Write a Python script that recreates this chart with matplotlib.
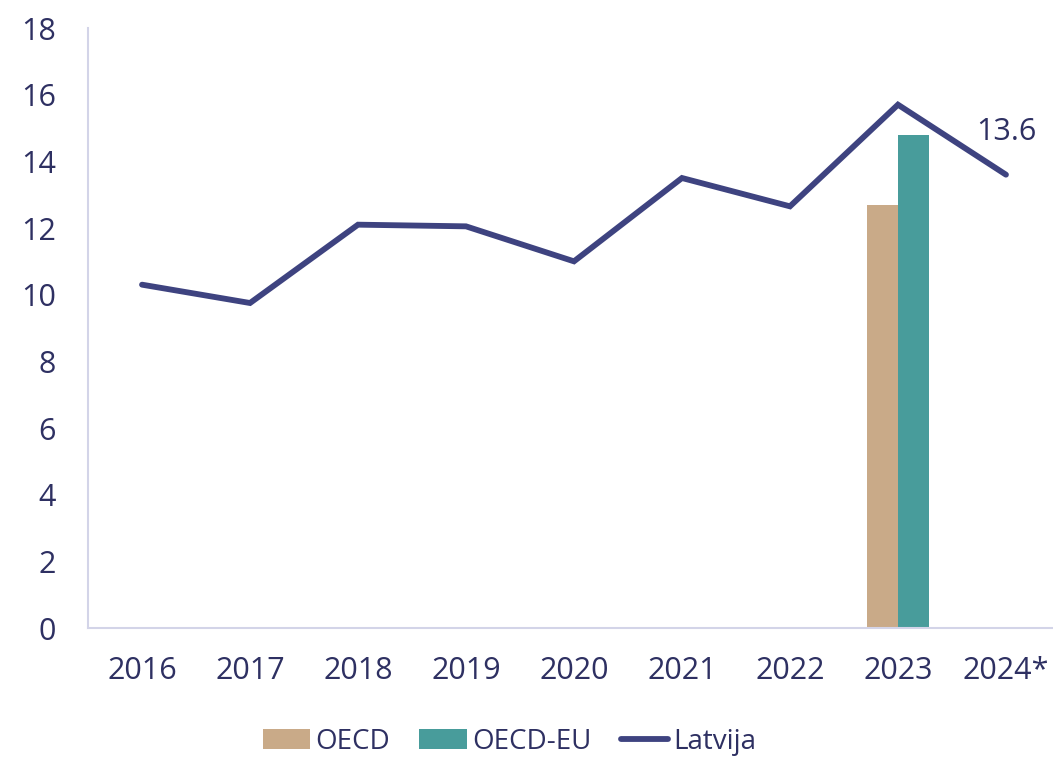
import matplotlib
matplotlib.use("Agg")
import matplotlib.pyplot as plt
import numpy as np

# ── Data ──────────────────────────────────────────────────────────────────────

years   = ["2016", "2017", "2018", "2019", "2020", "2021", "2022", "2023", "2024*"]
latvija = [10.3, 9.75, 12.1, 12.05, 11.0, 13.5, 12.65, 15.7, 13.6]
oecd    = 12.7    # 2023 only
oecd_eu = 14.8    # 2023 only
bar_year = "2023"

# ── Style ─────────────────────────────────────────────────────────────────────

TEXT   = "#2E3062"
LINE   = "#3E4380"
TAN    = "#C9AA88"
TEAL   = "#489C9B"
SPINE  = "#D3D4E8"

plt.rcParams["font.family"] = ["Open Sans", "DejaVu Sans"]

fig = plt.figure(figsize=(10.53, 7.57), dpi=100)
ax = fig.add_axes([0.0836, 0.1704, 0.923, 0.7926])

x = np.arange(len(years))
bi = years.index(bar_year)
w = 0.29
h_oecd = ax.bar(bi - w / 2, oecd, width=w, color=TAN, label="OECD", zorder=2)
h_eu = ax.bar(bi + w / 2, oecd_eu, width=w, color=TEAL, label="OECD-EU", zorder=2)
h_lv, = ax.plot(x, latvija, color=LINE, lw=4.2, solid_capstyle="round",
                solid_joinstyle="miter", label="Latvija", zorder=3)

ax.annotate(f"{latvija[-1]:.1f}", (x[-1], latvija[-1]), xytext=(0, 20),
            textcoords="offset points", ha="center", va="bottom",
            fontsize=22, color=TEXT)

ax.set_xlim(-0.5, len(years) - 0.5)
ax.set_ylim(0, 18)
ax.set_yticks(np.arange(0, 19, 2))
ax.set_xticks(x)
ax.set_xticklabels(years)
ax.tick_params(length=0, labelsize=22, colors=TEXT)
ax.tick_params(axis="x", pad=20)
ax.tick_params(axis="y", pad=23)

for s in ("top", "right"):
    ax.spines[s].set_visible(False)
for s in ("left", "bottom"):
    ax.spines[s].set_color(SPINE)
    ax.spines[s].set_linewidth(1.5)

fig.legend(handles=[h_oecd, h_eu, h_lv], loc="center",
           bbox_to_anchor=(0.484, 0.02), ncol=3,
           frameon=False, fontsize=20, handlelength=1.7,
           handleheight=0.72, handletextpad=0.2, columnspacing=1.05,
           labelcolor=TEXT)

fig.savefig("out.png", dpi=100)
